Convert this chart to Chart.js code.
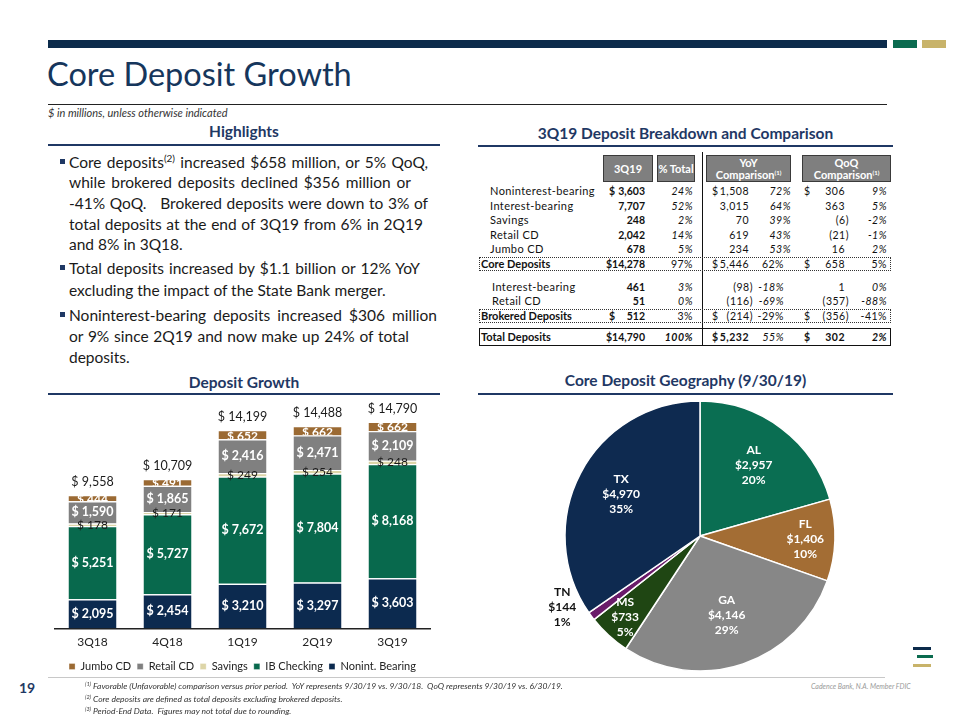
<!DOCTYPE html>
<html>
<head>
<meta charset="utf-8">
<title>Core Deposit Growth</title>
<script src="https://cdn.jsdelivr.net/npm/chart.js@4.4.1/dist/chart.umd.min.js"></script>
<style>
  body { margin: 0; background: #fff; font-family: Lato, "Open Sans", sans-serif; color: #1a1a1a; }
  #slide { position: relative; width: 960px; height: 720px; overflow: hidden; background: #fff; }
  .abs { position: absolute; white-space: nowrap; }
  .rule { position: absolute; }
  .head { position: absolute; font-weight: 700; font-size: 15.5px; color: #1f3864; text-align: center; line-height: 18px; }
  .line { position: absolute; left: 69px; font-size: 15.5px; line-height: 20px; color: #1a1a1a; white-space: nowrap; text-align: justify; text-align-last: justify; }
  .line.last { text-align-last: left; }
  .line sup { font-size: 10px; line-height: 0; vertical-align: 6px; }
  .bullet { position: absolute; left: 60px; width: 5px; height: 5px; background: #1f3864; }
  .box { position: absolute; background: #7f7f7f; border: 1px solid #3a3a3a; box-sizing: border-box; color: #fff; font-weight: 700; font-size: 11px; text-align: center; display: flex; flex-direction: column; justify-content: center; line-height: 12px; }
  .box sup { font-size: 6px; line-height: 0; vertical-align: 4px; }
  .cell { position: absolute; font-size: 10.5px; line-height: 12px; white-space: nowrap; color: #111; }
  .foot { position: absolute; font-size: 8.5px; font-style: italic; color: #333; white-space: nowrap; line-height: 10px; }
  .foot sup { font-size: 5.5px; line-height: 0; vertical-align: 3px; }
  canvas { position: absolute; }
</style>
</head>
<body>
<div id="slide">
  <!-- top bar -->
  <div class="rule" style="left:48px;top:40px;width:839px;height:8px;background:#0c2b4b"></div>
  <div class="rule" style="left:893px;top:40px;width:24px;height:8px;background:#0b6b4f"></div>
  <div class="rule" style="left:922px;top:40px;width:24px;height:8px;background:#c8b36a"></div>

  <div class="abs" style="left:47px;top:54px;font-size:32.5px;line-height:40px;color:#16365c">Core Deposit Growth</div>
  <div class="rule" style="left:48px;top:104px;width:839px;height:1px;background:#222"></div>
  <div class="abs" style="left:48px;top:106px;font-size:11px;line-height:14px;font-style:italic;color:#333">$ in millions, unless otherwise indicated</div>

  <!-- highlights -->
  <div class="head" style="left:48px;top:122px;width:392px">Highlights</div>
  <div class="rule" style="left:48px;top:144px;width:392px;height:2px;background:#1f3864"></div>
  <div id="bullets"></div>

  <!-- table -->
  <div class="head" style="left:478px;top:124px;width:415px">3Q19 Deposit Breakdown and Comparison</div>
  <div class="rule" style="left:478px;top:145px;width:415px;height:2px;background:#1f3864"></div>
  <div class="box" style="left:603px;top:155px;width:50px;height:27px">3Q19</div>
  <div class="box" style="left:657px;top:155px;width:38px;height:27px">% Total</div>
  <div class="box" style="left:706px;top:155px;width:85px;height:27px"><div>YoY</div><div>Comparison<sup>(1)</sup></div></div>
  <div class="box" style="left:802px;top:155px;width:89px;height:27px"><div>QoQ</div><div>Comparison<sup>(1)</sup></div></div>
  <div class="rule" style="left:702px;top:152px;width:1px;height:193px;background:#111"></div>
  <div class="rule" style="left:479px;top:257px;width:412px;height:14px;border:1px dotted #333;box-sizing:border-box"></div>
  <div class="rule" style="left:479px;top:309px;width:412px;height:14px;border:1px dotted #333;box-sizing:border-box"></div>
  <div class="rule" style="left:479px;top:328px;width:412px;height:18px;border:1px solid #111;box-sizing:border-box"></div>
  <div id="tbl"></div>

  <!-- deposit growth -->
  <div class="head" style="left:48px;top:373px;width:392px">Deposit Growth</div>
  <div class="rule" style="left:48px;top:393px;width:392px;height:2px;background:#1f3864"></div>
  <canvas id="bars" width="392" height="286" style="left:48px;top:398px"></canvas>

  <!-- geography -->
  <div class="head" style="left:478px;top:371px;width:415px">Core Deposit Geography (9/30/19)</div>
  <div class="rule" style="left:478px;top:393px;width:415px;height:2px;background:#1f3864"></div>
  <canvas id="pie" width="320" height="276" style="left:540px;top:398px"></canvas>

  <!-- footer -->
  <div class="rule" style="left:48px;top:677px;width:837px;height:1px;background:#c8c8c8"></div>
  <div class="abs" style="left:19px;top:680px;font-size:14px;font-weight:700;color:#1f3864;line-height:16px">19</div>
  <div class="foot" style="left:85px;top:681px"><sup>(1)</sup> Favorable (Unfavorable) comparison versus prior period.&nbsp; YoY represents 9/30/19 vs. 9/30/18.&nbsp; QoQ represents 9/30/19 vs. 6/30/19.</div>
  <div class="foot" style="left:85px;top:694px"><sup>(2)</sup> Core deposits are defined as total deposits excluding brokered deposits.</div>
  <div class="foot" style="left:85px;top:706px"><sup>(3)</sup> Period-End Data.&nbsp; Figures may not total due to rounding.</div>
  <div class="foot" style="left:811px;top:681px;color:#9a9a9a;font-size:7px">Cadence Bank, N.A. Member FDIC</div>
  <div class="rule" style="left:913px;top:647px;width:18px;height:3px;background:#0c2b4b"></div>
  <div class="rule" style="left:917px;top:655px;width:16px;height:3px;background:#0b6b4f"></div>
  <div class="rule" style="left:913px;top:664px;width:18px;height:3px;background:#c8b36a"></div>
</div>

<script>
// ---- highlights text
const bulletParas = [
  ["Core deposits<sup>(2)</sup> increased $658 million, or 5% QoQ,",
   "while brokered deposits declined $356 million or",
   "-41% QoQ.&nbsp;&nbsp; Brokered deposits were down to 3% of",
   "total deposits at the end of 3Q19 from 6% in 2Q19",
   "and 8% in 3Q18."],
  ["Total deposits increased by $1.1 billion or 12% YoY",
   "excluding the impact of the State Bank merger."],
  ["Noninterest-bearing deposits increased $306 million",
   "or 9% since 2Q19 and now make up 24% of total",
   "deposits."]
];
const bulletLineY = [[162, 182, 203, 224, 244], [268, 290], [315, 336, 357]];
const bulletLineRight = [[428, 411, 428, 423, 0], [420, 0], [437, 409, 0]];

// ---- table data
const rowLabels = ["Noninterest-bearing", "Interest-bearing", "Savings", "Retail CD", "Jumbo CD",
  "Core Deposits", "Interest-bearing", "Retail CD", "Brokered Deposits", "Total Deposits"];
const q3Values = [3603, 7707, 248, 2042, 678, 14278, 461, 51, 512, 14790];
const pctTotal = [24, 52, 2, 14, 5, 97, 3, 0, 3, 100];
const yoyChange = [1508, 3015, 70, 619, 234, 5446, -98, -116, -214, 5232];
const yoyPct = [72, 64, 39, 43, 53, 62, -18, -69, -29, 55];
const qoqChange = [306, 363, -6, -21, 16, 658, 1, -357, -356, 302];
const qoqPct = [9, 5, -2, -1, 2, 5, 0, -88, -41, 2];

// ---- bar chart data
const quarters = ["3Q18", "4Q18", "1Q19", "2Q19", "3Q19"];
const nonintBearing = [2095, 2454, 3210, 3297, 3603];
const ibChecking = [5251, 5727, 7672, 7804, 8168];
const savings = [178, 171, 249, 254, 248];
const retailCD = [1590, 1865, 2416, 2471, 2109];
const jumboCD = [444, 491, 652, 662, 662];
const quarterTotals = [9558, 10709, 14199, 14488, 14790];

// ---- pie data
const states = ["AL", "FL", "GA", "MS", "TN", "TX"];
const stateDeposits = [2957, 1406, 4146, 733, 144, 4970];
const statePct = [20, 10, 29, 5, 1, 35];

// build bullets
const bl = document.getElementById('bullets');
bulletParas.forEach((para, p) => {
  const b = document.createElement('div');
  b.className = 'bullet';
  b.style.top = (bulletLineY[p][0] - 3) + 'px';
  bl.appendChild(b);
  para.forEach((txt, k) => {
    const d = document.createElement('div');
    const right = bulletLineRight[p][k];
    d.className = 'line' + (right ? '' : ' last');
    d.style.top = (bulletLineY[p][k] - 10) + 'px';
    if (right) d.style.width = (right - 69) + 'px';
    d.innerHTML = txt;
    bl.appendChild(d);
  });
});

// build table
const rowY = [191, 206, 220, 235, 249, 264, 287, 301, 316, 337];
const labelX = [490, 490, 490, 490, 490, 481, 492, 492, 481, 481];
const boldRows = [5, 8, 9];
const dollarRows = [0, 5, 8, 9];
const tbl = document.getElementById('tbl');
function cell(text, x, y, align, style) {
  const d = document.createElement('div');
  d.className = 'cell';
  d.style.top = (y - 6) + 'px';
  if (align === 'right') { d.style.left = (x - 100) + 'px'; d.style.width = '100px'; d.style.textAlign = 'right'; }
  else d.style.left = x + 'px';
  Object.assign(d.style, style || {});
  d.textContent = text;
  tbl.appendChild(d);
}
const money = v => v < 0 ? '(' + Math.abs(v).toLocaleString('en-US') + ')' : Math.abs(v).toLocaleString('en-US');
rowLabels.forEach((lab, r) => {
  const y = rowY[r];
  const isBold = boldRows.includes(r);
  const isTotal = r === 9;
  const isSub = r === 5 || r === 8;
  const wide = q3Values[r] >= 10000;
  const reg = { letterSpacing: '0.5px' };
  cell(lab, labelX[r], y, 'left', { fontSize: '11px', fontWeight: isBold ? 700 : 400, letterSpacing: isBold ? '0px' : '0.4px' });
  if (dollarRows.includes(r)) {
    if (!wide) cell('$', 609, y, 'left', { fontWeight: 700 });
    cell('$', 712, y, 'left', { fontWeight: isTotal ? 700 : 400 });
    cell('$', 804, y, 'left', { fontWeight: isTotal ? 700 : 400 });
  }
  cell((wide ? '$' : '') + money(q3Values[r]), 645, y, 'right', { fontWeight: 700 });
  cell(pctTotal[r] + '%', 693, y, 'right', Object.assign({ fontStyle: isSub ? 'normal' : 'italic', fontWeight: isTotal ? 700 : 400 }, reg));
  cell(money(yoyChange[r]), yoyChange[r] < 0 ? 753 : 749, y, 'right', Object.assign({ fontWeight: isTotal ? 700 : 400 }, reg));
  cell(yoyPct[r] + '%', r < 5 ? 791 : 784, y, 'right', Object.assign({ fontStyle: isSub ? 'normal' : 'italic' }, reg));
  cell(money(qoqChange[r]), qoqChange[r] < 0 ? 849 : 845, y, 'right', Object.assign({ fontWeight: isTotal ? 700 : 400 }, reg));
  cell(qoqPct[r] + '%', 887, y, 'right', Object.assign({ fontStyle: isSub ? 'normal' : 'italic', fontWeight: isTotal ? 700 : 400 }, reg));
});

// ---- stacked bars
const fmt = v => '$ ' + v.toLocaleString('en-US');
const segLabels = {
  id: 'segLabels',
  afterDatasetsDraw(chart) {
    const ctx = chart.ctx;
    ctx.save();
    ctx.textAlign = 'center';
    ctx.textBaseline = 'middle';
    chart.data.datasets.forEach((ds, di) => {
      const meta = chart.getDatasetMeta(di);
      meta.data.forEach((bar, i) => {
        const { x, y, base, width } = bar.getProps(['x', 'y', 'base', 'width'], true);
        const cy = (y + base) / 2;
        const txt = fmt(ds.data[i]);
        if (di === 2) {
          ctx.font = '12px Lato, sans-serif';
          ctx.fillStyle = '#1a1a1a';
          ctx.fillText(txt, x, cy);
        } else if (di === 4) {
          ctx.save();
          ctx.beginPath();
          ctx.rect(x - width / 2, y + 1, width, base - y - 1);
          ctx.clip();
          ctx.font = 'bold 12px Lato, sans-serif';
          ctx.fillStyle = '#fff';
          ctx.fillText(txt, x, cy + 1);
          ctx.restore();
        } else {
          ctx.font = 'bold 12.5px Lato, sans-serif';
          ctx.fillStyle = '#fff';
          ctx.fillText(txt, x, cy);
        }
      });
    });
    const top = chart.getDatasetMeta(chart.data.datasets.length - 1);
    ctx.font = '12.5px Lato, sans-serif';
    ctx.fillStyle = '#1a1a1a';
    top.data.forEach((bar, i) => {
      ctx.fillText(fmt(quarterTotals[i]), bar.x, bar.y - 13);
    });
    ctx.restore();
  }
};

const seriesDefs = [
  ['Nonint. Bearing', nonintBearing, '#0c2a4f'],
  ['IB Checking', ibChecking, '#08694d'],
  ['Savings', savings, '#ddd5a8'],
  ['Retail CD', retailCD, '#808080'],
  ['Jumbo CD', jumboCD, '#9b6a33']
];

new Chart(document.getElementById('bars'), {
  type: 'bar',
  data: {
    labels: quarters,
    datasets: seriesDefs.map(([label, data, color]) => ({
      label, data,
      backgroundColor: color,
      borderColor: '#fff',
      borderWidth: { top: 1.2, bottom: 0, left: 0, right: 0 },
      borderSkipped: false,
      barPercentage: 0.64,
      categoryPercentage: 1
    }))
  },
  options: {
    responsive: false,
    animation: false,
    layout: { padding: { left: 7, right: 10, top: 7, bottom: 2 } },
    scales: {
      x: {
        stacked: true,
        grid: { display: false, drawTicks: false },
        border: { display: true, color: '#222', width: 1.5 },
        ticks: { color: '#222', font: { family: 'Lato', size: 12 }, padding: 6 }
      },
      y: { stacked: true, display: false, min: 0, max: 16000 }
    },
    plugins: {
      legend: {
        position: 'bottom',
        reverse: true,
        labels: { boxWidth: 6, boxHeight: 6, padding: 6, color: '#222', font: { family: 'Lato', size: 11 } }
      },
      tooltip: { enabled: false }
    }
  },
  plugins: [segLabels]
});

// ---- pie
const pieLabelPos = { radius: [0.66, 0.78, 0.62, 0.82, 1.15, 0.66], angleShift: [0, 0, 0, 0, 9, 0] };
const pieLabels = {
  id: 'pieLabels',
  afterDatasetsDraw(chart) {
    const ctx = chart.ctx;
    const meta = chart.getDatasetMeta(0);
    ctx.save();
    ctx.textAlign = 'center';
    ctx.textBaseline = 'middle';
    ctx.font = 'bold 12px Lato, sans-serif';
    meta.data.forEach((arc, i) => {
      const { x, y, startAngle, endAngle, outerRadius } = arc.getProps(['x', 'y', 'startAngle', 'endAngle', 'outerRadius'], true);
      const mid = (startAngle + endAngle) / 2 + pieLabelPos.angleShift[i] * Math.PI / 180;
      const r = outerRadius * pieLabelPos.radius[i];
      const cx = x + Math.cos(mid) * r;
      const cy = y + Math.sin(mid) * r;
      ctx.fillStyle = i === 4 ? '#111' : '#fff';
      const lines = [states[i], '$' + stateDeposits[i].toLocaleString('en-US'), statePct[i] + '%'];
      lines.forEach((t, k) => ctx.fillText(t, cx, cy + (k - 1) * 15));
    });
    ctx.restore();
  }
};

new Chart(document.getElementById('pie'), {
  type: 'pie',
  data: {
    labels: states,
    datasets: [{
      data: stateDeposits,
      backgroundColor: ['#0a6e52', '#a36d34', '#878787', '#1f4613', '#6a1b6a', '#0e2a50'],
      borderColor: '#fff',
      borderWidth: 1.5
    }]
  },
  options: {
    responsive: false,
    animation: false,
    radius: 135,
    plugins: { legend: { display: false }, tooltip: { enabled: false } }
  },
  plugins: [pieLabels]
});
</script>
</body>
</html>
